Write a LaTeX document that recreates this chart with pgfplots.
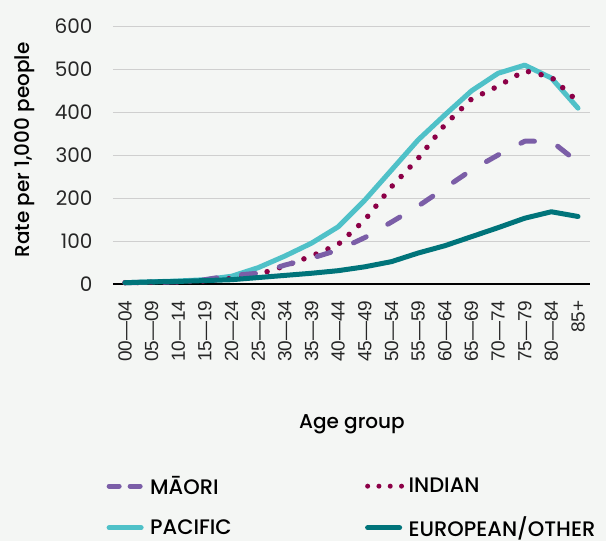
\documentclass[border=0pt]{standalone}
\usepackage{pgfplots}
\pgfplotsset{compat=1.18}
\usepackage{fontspec}
\setmainfont{Poppins}
\newfontfamily\pmed{Poppins Medium}
\newfontfamily\arialf{Liberation Sans}
\definecolor{bgc}{HTML}{F4F6F4}
\definecolor{gridc}{HTML}{CFCFCF}
\definecolor{maoric}{HTML}{7B5EA7}
\definecolor{indianc}{HTML}{8C0047}
\definecolor{pacificc}{HTML}{4FC1C8}
\definecolor{europeanc}{HTML}{00747A}
\begin{document}
\begin{tikzpicture}[x=1pt,y=1pt]
\useasboundingbox (-113,-257) rectangle (493,284);
\fill[bgc] (-113,-257) rectangle (493,284);
\begin{axis}[at={(0,0)}, anchor=south west, scale only axis,
  width=477pt, height=258pt,
  xmin=-0.45, xmax=17.45, ymin=0, ymax=600,
  ytick={0,100,...,600},
  xtick={0,...,17},
  xticklabels={00—04,05—09,10—14,15—19,20—24,25—29,30—34,35—39,40—44,45—49,50—54,55—59,60—64,65—69,70—74,75—79,80—84,85+},
  axis lines=left,
  axis line style={-},
  x axis line style={line width=1.8pt, black},
  y axis line style={draw=none},
  major tick length=0pt,
  tick style={draw=none},
  ymajorgrids,
  grid style={line width=1pt, gridc},
  /pgf/number format/assume math mode=true,
  yticklabel style={font=\fontsize{20}{20}\selectfont, xshift=-17pt, text=black!85},
  xticklabel style={font=\arialf\fontsize{19}{19}\selectfont, yshift=-13pt, rotate=90, anchor=east, text=black!85},
  clip=false,
  legend columns=2,
  legend cell align=left,
  legend style={at={(-0.019,-0.737)}, anchor=north west, draw=none, fill=none,
    font=\pmed\fontsize{21}{21}\selectfont, inner sep=0pt,
    /tikz/every odd column/.append style={column sep=2pt},
    /tikz/every even column/.append style={column sep=129pt},
    row sep=17pt},
  legend image code/.code={\draw[#1] (0pt,0pt) -- (37pt,0pt);},
]
\addlegendimage{maoric, line width=5pt, line cap=round, dash pattern=on 10pt off 11pt, shorten <=2.5pt, shorten >=2.5pt}
\addlegendentry{MĀORI}
\addlegendimage{indianc, line width=5pt, line cap=round, dash pattern=on 0pt off 11.3pt, shorten <=2.5pt}
\addlegendentry{INDIAN}
\addlegendimage{pacificc, line width=5pt, line cap=round, shorten <=2.5pt, shorten >=2.5pt}
\addlegendentry{PACIFIC}
\addlegendimage{europeanc, line width=5pt, line cap=round, shorten <=2.5pt, shorten >=2.5pt}
\addlegendentry{EUROPEAN/OTHER}

\addplot[forget plot, pacificc, line width=5pt, line join=round, line cap=round] coordinates {
(0,3) (1,5) (2,7) (3,10) (4,18) (5,38) (6,65) (7,95) (8,133) (9,195) (10,265) (11,335) (12,393) (13,449) (14,490) (15,509) (16,479) (17,409)};
\addplot[forget plot, indianc, line width=5.5pt, line cap=round, dash pattern=on 0pt off 13pt] coordinates {
(0,3) (1,4) (2,5) (3,7) (4,13) (5,22) (6,42) (7,65) (8,92) (9,149) (10,226) (11,292) (12,370) (13,430) (14,460) (15,496) (16,481) (17,424)};
\addplot[forget plot, maoric, line width=5pt, line cap=round, line join=round, dash pattern=on 14pt off 25pt] coordinates {
(0,3) (1,4) (2,5) (3,10) (4,20) (5,25) (6,44) (7,60) (8,79) (9,108) (10,144) (11,181) (12,223) (13,265) (14,300) (15,332) (16,332) (17,283)};
\addplot[forget plot, europeanc, line width=5pt, line join=round, line cap=round] coordinates {
(0,3) (1,5) (2,6) (3,8) (4,10) (5,15) (6,20) (7,25) (8,31) (9,40) (10,52) (11,72) (12,89) (13,110) (14,131) (15,153) (16,168) (17,157)};
\end{axis}
\node[rotate=90, font=\pmed\fontsize{20}{20}\selectfont] at (-88,134) {Rate per 1,000 people};
\node[font=\pmed\fontsize{20}{20}\selectfont] at (239,-140) {Age group};
\end{tikzpicture}
\end{document}
